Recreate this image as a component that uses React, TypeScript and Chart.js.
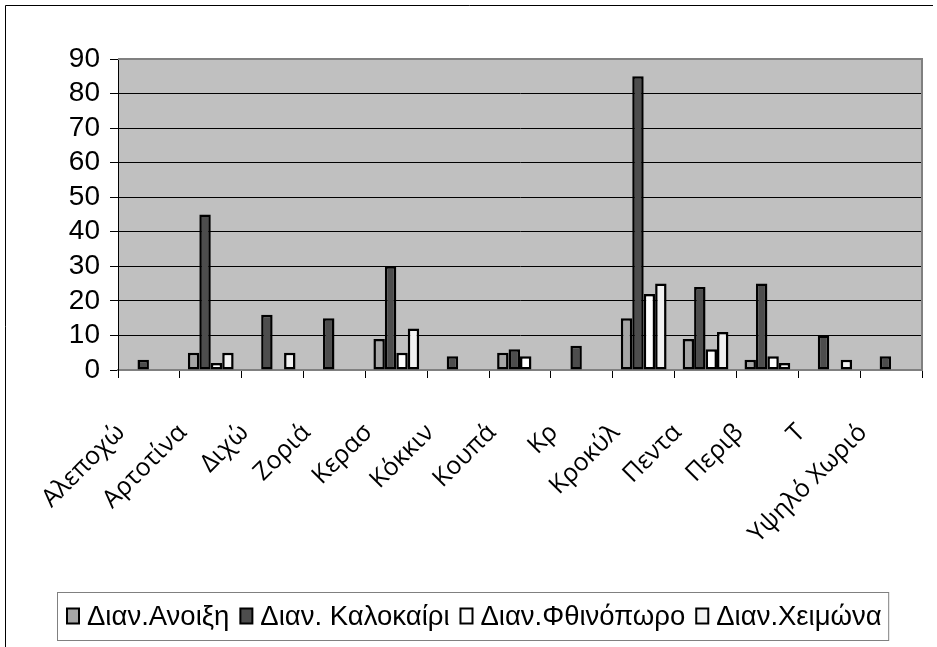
import { useEffect, useRef } from "react";
import { Chart, registerables } from "chart.js";

Chart.register(...registerables);

const categories = [
  "Αλεποχώ",
  "Αρτοτίνα",
  "Διχώ",
  "Ζοριά",
  "Κερασ",
  "Κόκκιν",
  "Κουπά",
  "Κρ",
  "Κροκύλ",
  "Πεντα",
  "Περιβ",
  "Τ",
  "Υψηλό Χωριό",
];

const seriesNames = ["Διαν.Ανοιξη", "Διαν. Καλοκαίρι", "Διαν.Φθινόπωρο", "Διαν.Χειμώνα"];

const springValues = [null, 5, null, null, 9, null, 5, null, 15, 9, 3, null, null];
const summerValues = [3, 45, 16, 15, 30, 4, 6, 7, 85, 24, 25, 10, 4];
const autumnValues = [null, 2, null, null, 5, null, 4, null, 22, 6, 4, null, null];
const winterValues = [null, 5, 5, null, 12, null, null, null, 25, 11, 2, 3, null];

const seriesColors = ["#a6a6a6", "#4d4d4d", "#ffffff", "#f2f2f2"];

const yMin = 0;
const yMax = 90;
const yStep = 10;

const LEGEND_FONT = "27.5px 'Liberation Sans', Arial, sans-serif";

const framePlugin = {
  id: "framePlugin",
  beforeDraw(chart: any) {
    const { ctx, chartArea } = chart;
    ctx.save();
    ctx.fillStyle = "#ffffff";
    ctx.fillRect(0, 0, chart.width, chart.height);
    ctx.fillStyle = "#c0c0c0";
    ctx.fillRect(chartArea.left, chartArea.top, chartArea.right - chartArea.left, chartArea.bottom - chartArea.top);
    ctx.restore();
  },
  afterDraw(chart: any) {
    const { ctx, chartArea } = chart;
    ctx.save();
    // plot area top/right border
    ctx.strokeStyle = "#808080";
    ctx.lineWidth = 2;
    ctx.beginPath();
    ctx.moveTo(chartArea.left, chartArea.top);
    ctx.lineTo(chartArea.right, chartArea.top);
    ctx.lineTo(chartArea.right, chartArea.bottom);
    ctx.stroke();

    // outer frame
    ctx.strokeStyle = "#000000";
    ctx.lineWidth = 1;
    ctx.beginPath();
    ctx.moveTo(5.5, chart.height);
    ctx.lineTo(5.5, 5.5);
    ctx.lineTo(933, 5.5);
    ctx.stroke();

    // legend
    ctx.font = LEGEND_FONT;
    ctx.textBaseline = "middle";
    ctx.textAlign = "left";
    const boxLeft = 57.5;
    const boxTop = 592.5;
    const boxH = 48;
    const cy = boxTop + boxH / 2;
    let x = 67;
    chart.data.datasets.forEach((ds: any, i: number) => {
      ctx.fillStyle = ds.backgroundColor;
      ctx.fillRect(x, cy - 8, 12, 15);
      ctx.strokeStyle = "#000";
      ctx.lineWidth = 2;
      ctx.strokeRect(x, cy - 8, 12, 15);
      x += 20;
      ctx.fillStyle = "#000";
      ctx.fillText(ds.label, x, cy + 1);
      x += ctx.measureText(ds.label).width;
      if (i < chart.data.datasets.length - 1) x += 11;
    });
    const boxRight = x + 7;
    ctx.strokeStyle = "#808080";
    ctx.lineWidth = 1;
    ctx.strokeRect(boxLeft, boxTop, boxRight - boxLeft, boxH);
    ctx.restore();
  },
};

export default function App() {
  const canvasRef = useRef<HTMLCanvasElement | null>(null);

  useEffect(() => {
    if (!canvasRef.current) return;
    const dataSeries = [springValues, summerValues, autumnValues, winterValues];
    const chart = new Chart(canvasRef.current, {
      type: "bar",
      data: {
        labels: categories,
        datasets: dataSeries.map((vals, i) => ({
          label: seriesNames[i],
          data: vals,
          backgroundColor: seriesColors[i],
          borderColor: "#000000",
          borderWidth: 2.5,
          borderSkipped: false,
          categoryPercentage: 0.74,
          barPercentage: 1,
        })),
      },
      options: {
        responsive: false,
        animation: false,
        devicePixelRatio: 1,
        layout: { padding: { left: 0, top: 59, right: 15, bottom: 77 } },
        plugins: {
          legend: { display: false },
          tooltip: { enabled: false },
          title: { display: false },
        },
        scales: {
          x: {
            grid: {
              display: true,
              drawOnChartArea: false,
              drawTicks: true,
              tickLength: 8,
              tickColor: "#000000",
              offset: true,
            },
            border: { display: true, color: "#808080", width: 2 },
            ticks: {
              autoSkip: false,
              maxRotation: 45,
              minRotation: 45,
              padding: 40,
              labelOffset: -28,
              color: "#000000",
              font: { family: "'Open Sans', 'Noto Sans', sans-serif", size: 25 },
            },
            afterFit(scale: any) {
              scale.height = 200;
              scale.paddingLeft = 0;
              scale.paddingRight = 0;
            },
          },
          y: {
            min: yMin,
            max: yMax,
            grid: {
              color: (c: any) => (c.tick && c.tick.value === yMin ? "rgba(0,0,0,0)" : c.tick && c.tick.value === yMax ? "#808080" : "#000000"),
              lineWidth: 1,
              drawTicks: true,
              tickLength: 8,
              tickColor: "#000000",
            },
            border: { display: true, color: "#000000", width: 1 },
            ticks: {
              stepSize: yStep,
              autoSkip: false,
              padding: 10,
              color: "#000000",
              font: { family: "'Liberation Sans', Arial, sans-serif", size: 28 },
            },
            afterFit(scale: any) {
              scale.width = 118;
              scale.paddingTop = 0;
              scale.paddingBottom = 0;
            },
          },
        },
      },
      plugins: [framePlugin],
    });
    return () => chart.destroy();
  }, []);

  return (
    <div style={{ position: "absolute", left: 0, top: 0, width: 937, height: 647 }}>
      <canvas ref={canvasRef} width={937} height={647} style={{ display: "block", width: 937, height: 647 }} />
    </div>
  );
}
